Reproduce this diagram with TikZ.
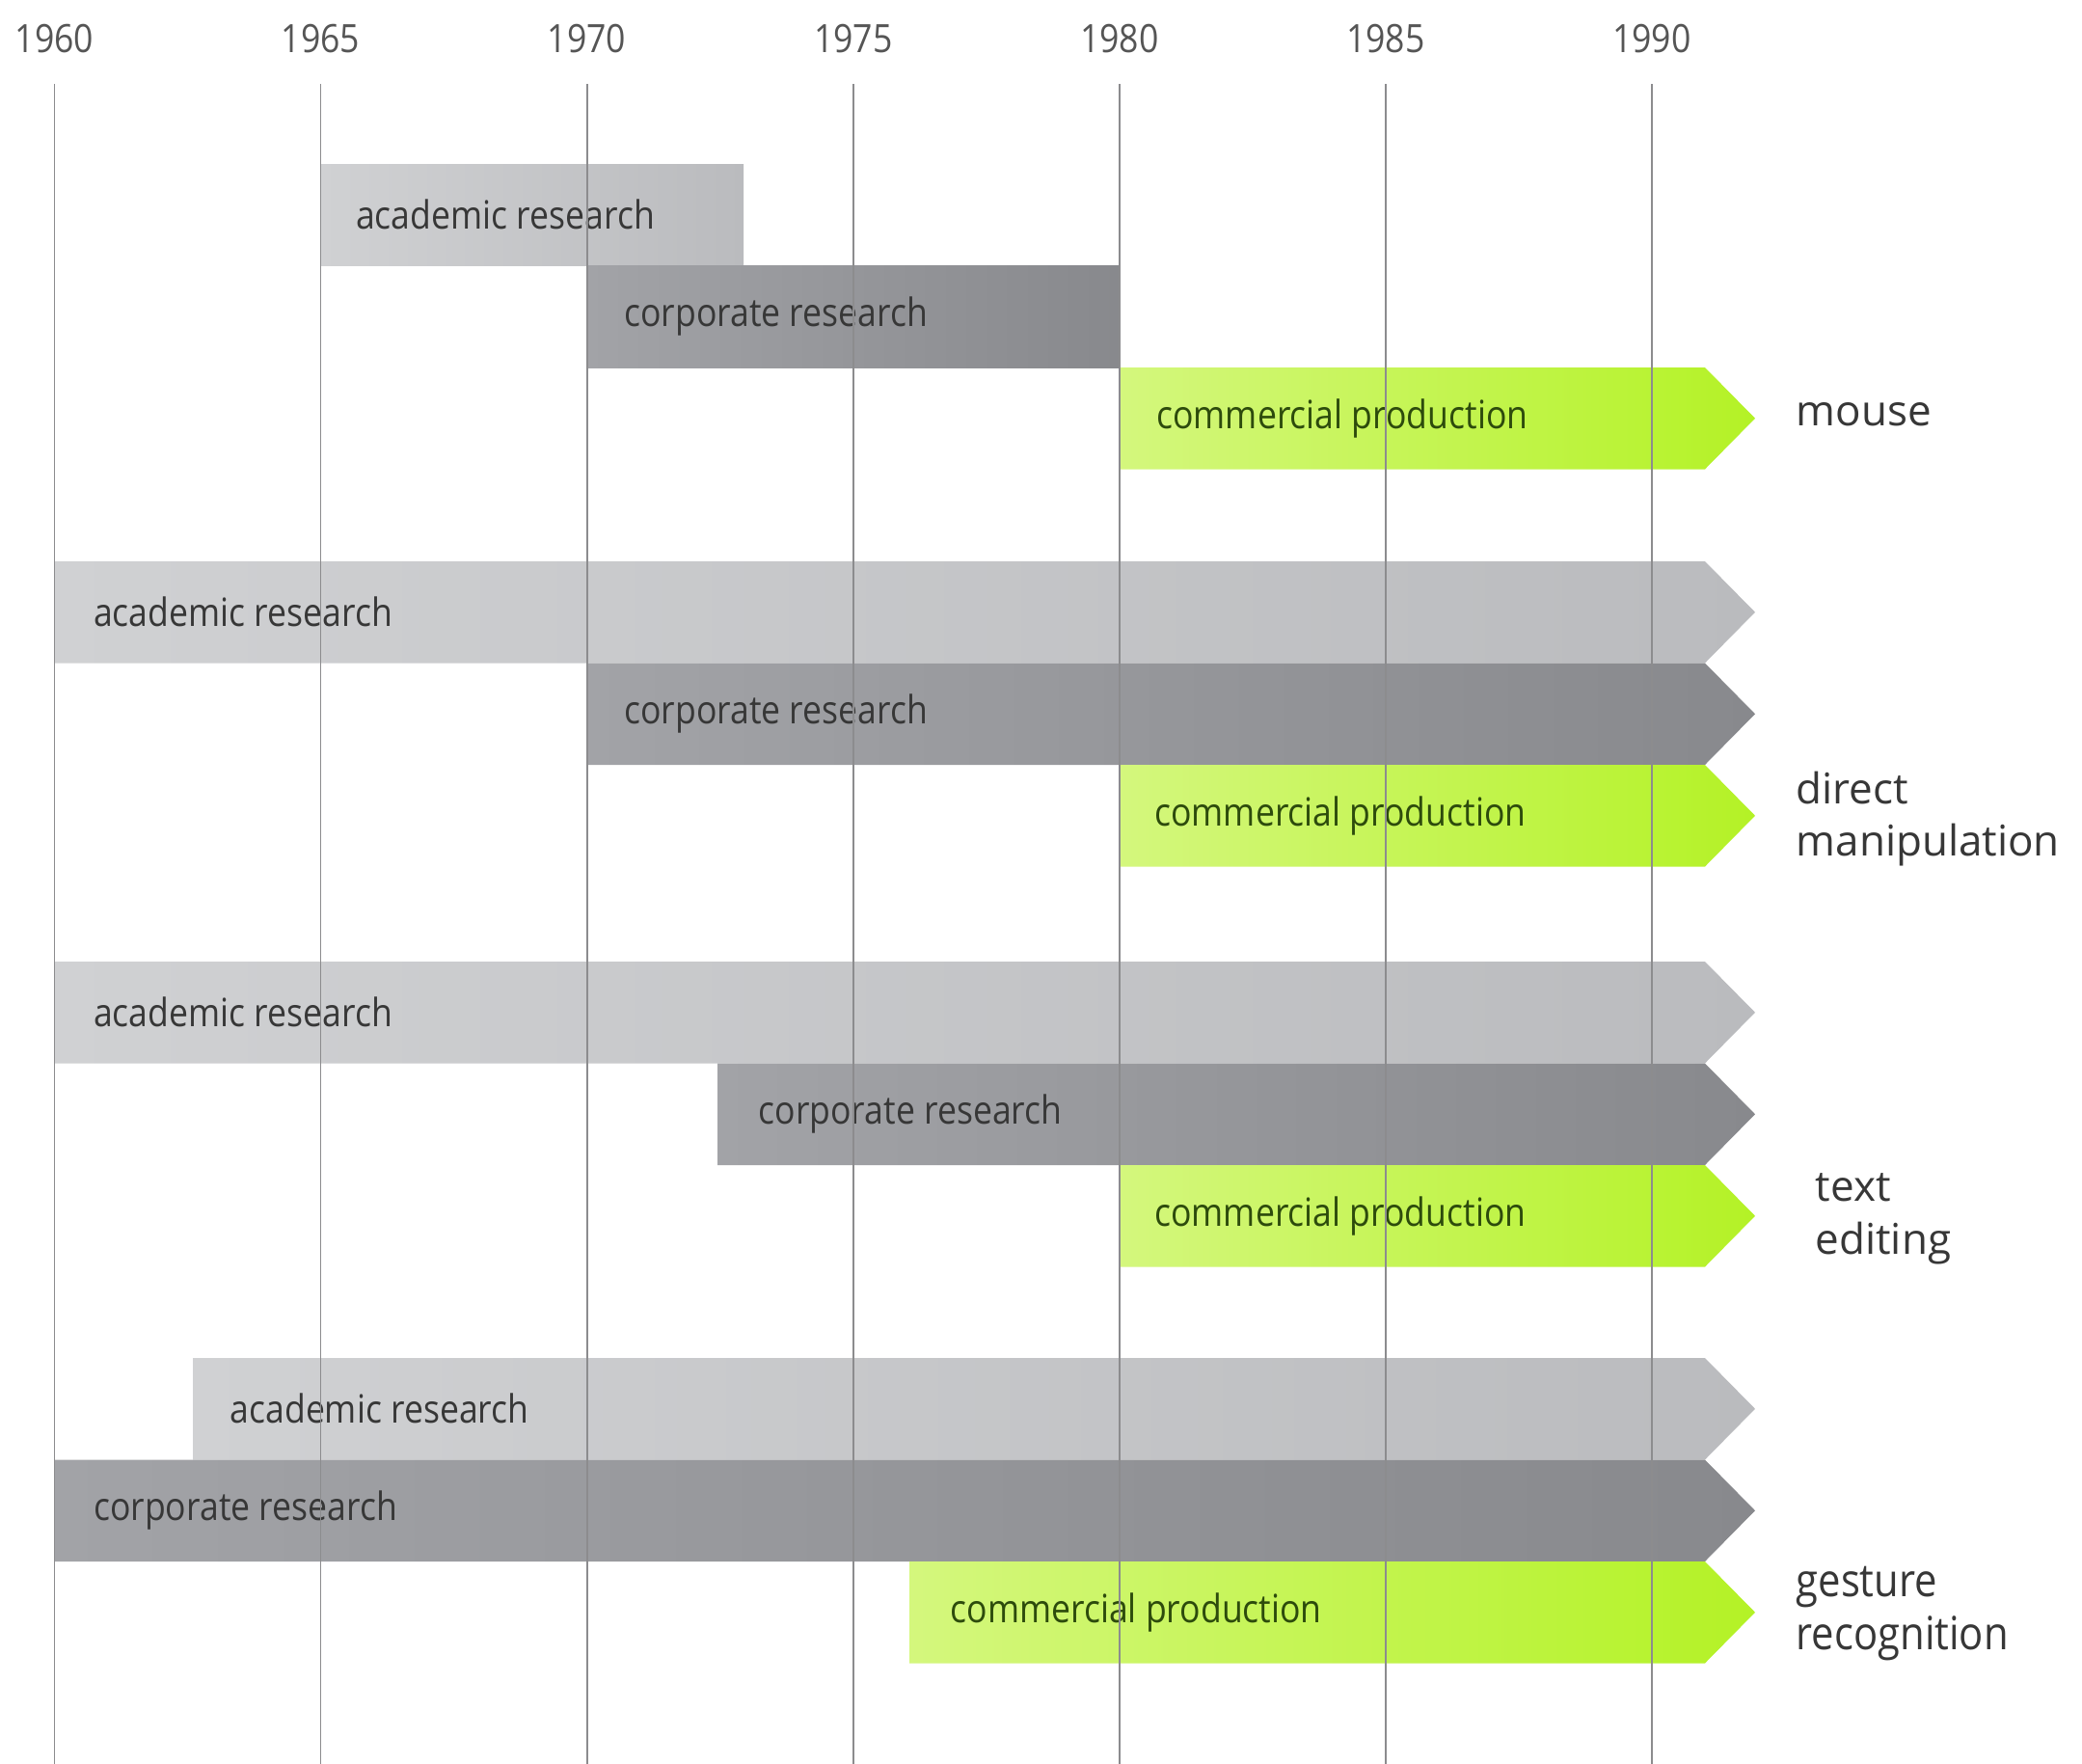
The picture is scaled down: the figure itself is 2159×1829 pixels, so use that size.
\documentclass[tikz,border=0pt]{standalone}
\usepackage{fontspec}
\setmainfont{Open Sans}
\newfontfamily\condfont[FakeStretch=0.88]{Open Sans}
\newfontfamily\labfont{Open Sans}
\definecolor{acadL}{RGB}{208,209,211}
\definecolor{acadR}{RGB}{186,187,190}
\definecolor{corpL}{RGB}{162,163,167}
\definecolor{corpR}{RGB}{136,137,141}
\definecolor{commL}{RGB}{212,247,125}
\definecolor{commR}{RGB}{180,242,38}
\definecolor{gridc}{RGB}{140,140,142}
\definecolor{txt}{RGB}{55,55,55}
\definecolor{greentxt}{RGB}{45,75,12}
\tikzset{
  acad/.style={left color=acadL, right color=acadR},
  corp/.style={left color=corpL, right color=corpR},
  comm/.style={left color=commL, right color=commR},
  bartext/.style={anchor=west, inner sep=0pt, font=\condfont\fontsize{11.5}{14}\selectfont, text=txt},
  greentext/.style={bartext, text=greentxt},
  yeartext/.style={anchor=center, inner sep=0pt, font=\condfont\fontsize{11.5}{14}\selectfont, text=txt!85},
  sidelab/.style={anchor=west, inner sep=0pt, align=left, font=\labfont\fontsize{12.5}{15.6}\selectfont, text=txt},
  sidelabc/.style={anchor=west, inner sep=0pt, align=left, font=\condfont\fontsize{13.5}{15.6}\selectfont, text=txt},
  gridline/.style={draw=gridc, line width=0.55pt}
}
% #1 style, #2 left x, #3 top y  (arrow bar to the right)
\newcommand\arrowbar[3]{%
  \shade[#1] (#2,#3) -- (1768,#3) -- (1820,#3+52.75) -- (1768,#3+105.5) -- (#2,#3+105.5) -- cycle;}
% #1 style, #2 left x, #3 right x, #4 top y (plain bar)
\newcommand\plainbar[4]{%
  \shade[#1] (#2,#4) rectangle (#3,#4+105.5);}
\begin{document}
\begin{tikzpicture}[x=0.01cm, y=-0.01cm]
\useasboundingbox (0,0) rectangle (2159,1829);
\fill[white] (0,0) rectangle (2159,1829);

% ---- group 1: mouse
\plainbar{acad}{332.5}{771}{170}
\plainbar{corp}{608.6}{1160.7}{275.5}
\arrowbar{comm}{1160.7}{381}
\node[bartext]   (a1) at (332.5+36, 222.75) {academic research};
\node[bartext]   (c1) at (608.6+38, 328.25) {corporate research};
\node[greentext] (p1) at (1160.7+38, 433.75) {commercial production};
\node[sidelab]   (l1) at (1862, 430) {mouse};

% ---- group 2: direct manipulation
\arrowbar{acad}{56.5}{582}
\arrowbar{corp}{608.6}{687.5}
\arrowbar{comm}{1160.7}{793}
\node[bartext]   (a2) at (56.5+40, 634.75) {academic research};
\node[bartext]   (c2) at (608.6+38, 740.25) {corporate research};
\node[greentext] (p2) at (1160.7+36, 845.75) {commercial production};
\node[sidelab]   (l2) at (1862, 849) {direct\\manipulation};

% ---- group 3: text editing
\arrowbar{acad}{56.5}{997}
\arrowbar{corp}{744}{1102.5}
\arrowbar{comm}{1160.7}{1208}
\node[bartext]   (a3) at (56.5+40, 1049.75) {academic research};
\node[bartext]   (c3) at (744+42, 1155.25) {corporate research};
\node[greentext] (p3) at (1160.7+36, 1260.75) {commercial production};
\node[sidelab]   (l3) at (1882, 1264) {text\\editing};

% ---- group 4: gesture recognition
\arrowbar{acad}{200}{1408}
\arrowbar{corp}{56.5}{1513.5}
\arrowbar{comm}{943}{1619}
\node[bartext]   (a4) at (200+38, 1460.75) {academic research};
\node[bartext]   (c4) at (56.5+40, 1566.25) {corporate research};
\node[greentext] (p4) at (943+42, 1671.75) {commercial production};
\node[sidelabc]  (l4) at (1862, 1673) {gesture\\recognition};

% ---- year grid
\foreach \yr/\xx in {1960/56.5,1965/332.5,1970/608.6,1975/884.7,1980/1160.7,1985/1436.8,1990/1712.8}{
  \node[yeartext] (y\yr) at (\xx, 40) {\yr};
  \coordinate (b\yr) at (\xx, 1829);
  \path[gridline] (\xx, 87) -- (b\yr);
}
\end{tikzpicture}
\end{document}
